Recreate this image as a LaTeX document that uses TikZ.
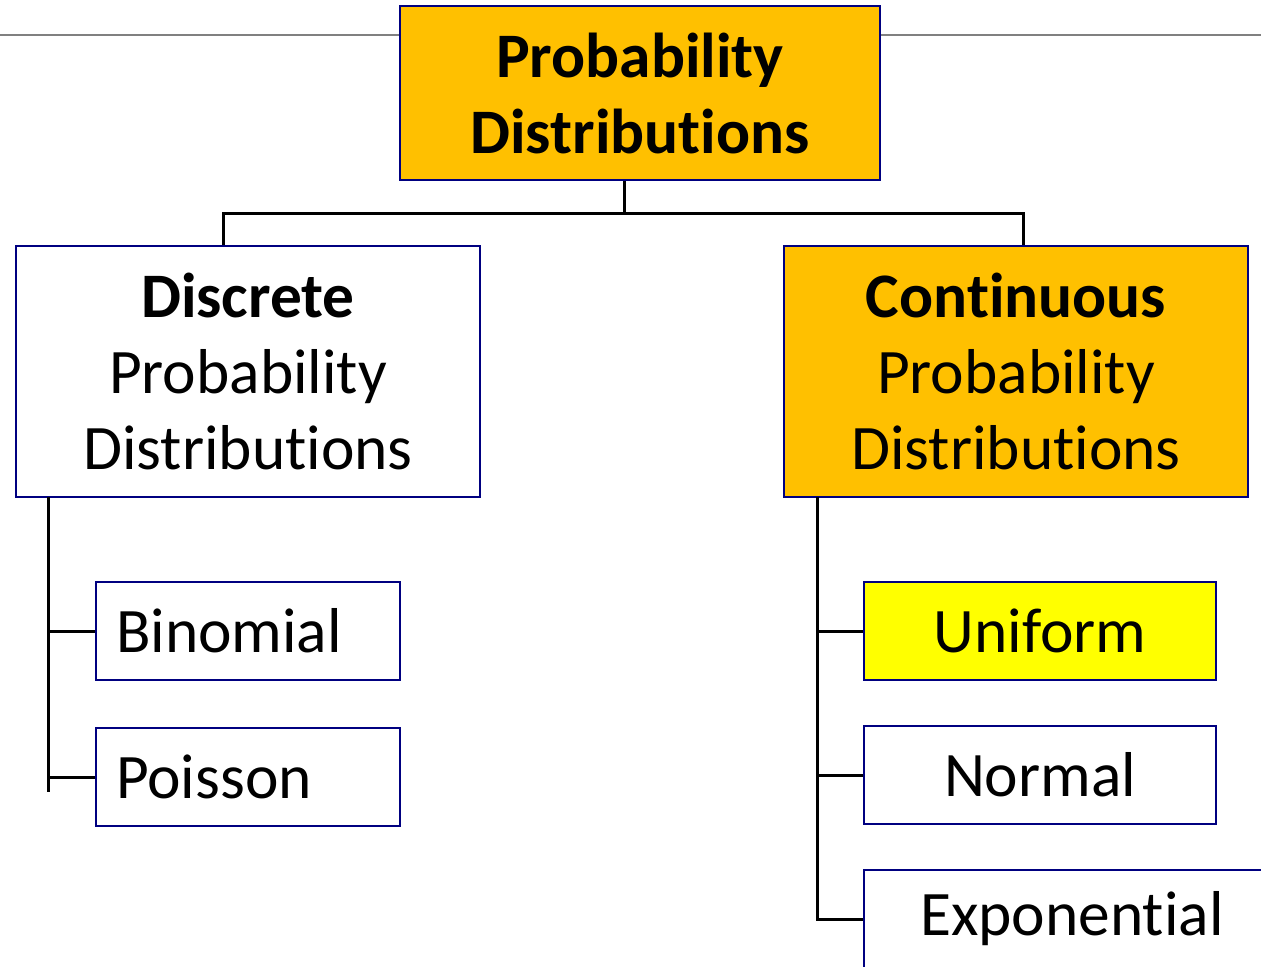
\documentclass[tikz,border=0pt]{standalone}
\usepackage{fontspec}
\setmainfont{Carlito}[Ligatures={NoCommon,NoContextual,NoRare}, RawFeature={-calt}]
\usetikzlibrary{positioning}
\definecolor{boxorange}{HTML}{FFC000}
\definecolor{boxyellow}{HTML}{FFFF00}
\definecolor{boxborder}{HTML}{000080}
\newcommand{\brk}{\kern0pt}
\tikzset{
    box/.style={draw=boxborder, line width=1pt, rectangle, align=center,
        font=\fontsize{31.7}{38}\selectfont, inner sep=0pt},
    leaf/.style={box, minimum height=49pt},
    link/.style={draw=black, line width=1.5pt}
}

\begin{document}
\begin{tikzpicture}[x=0.5pt, y=-0.5pt]
    \useasboundingbox (0,0) rectangle (1261,966);
    \clip (0,0) rectangle (1261,966);
    % rule behind the title
    \draw[gray, line width=1pt] (0,35) -- (1261,35);
    % boxes
    \node[box, fill=boxorange, minimum width=240pt, minimum height=87pt,
        font=\fontsize{31.7}{38}\selectfont\bfseries] (top) at (640,93)
        {Probability\\Distribut\brk ions};
    \node[box, fill=white, minimum width=232pt, minimum height=125.5pt] (disc) at (248,371.5)
        {\textbf{Discrete}\\Probability\\Distribut\brk ions};
    \node[box, fill=boxorange, minimum width=232pt, minimum height=125.5pt] (cont) at (1016,371.5)
        {\textbf{Cont\brk inuous}\\Probability\\Distribut\brk ions};
    \node[leaf, fill=white, text width=132pt, inner xsep=10pt, align=left] (binom) at (248,631) {Binomial};
    \node[leaf, fill=white, text width=132pt, inner xsep=10pt, align=left] (pois) at (248,777) {Poisson};
    \node[leaf, fill=boxyellow, minimum width=176pt] (unif) at (1040,631) {Uniform};
    \node[leaf, fill=white, minimum width=176pt] (norm) at (1040,775) {Normal};
    \node[leaf, fill=white, minimum width=208pt] (expo) at (1072,919) {Exponent\brk ial};
    % connectors
    \coordinate (split) at (624,213);
    \draw[link] (top.south -| split) -- (split);
    \draw[link] (disc.north -| 223,0) |- (split) -| (cont.north -| 1023,0);
    \coordinate (dtrunk) at (48,497);
    \coordinate (ctrunk) at (817,497);
    \draw[link] (dtrunk) -- (48,792);
    \draw[link] (dtrunk |- binom.west) -- (binom.west);
    \draw[link] (dtrunk |- pois.west) -- (pois.west);
    \draw[link] (ctrunk) -- (ctrunk |- expo.west) -- (expo.west);
    \draw[link] (ctrunk |- unif.west) -- (unif.west);
    \draw[link] (ctrunk |- norm.west) -- (norm.west);
\end{tikzpicture}
\end{document}
